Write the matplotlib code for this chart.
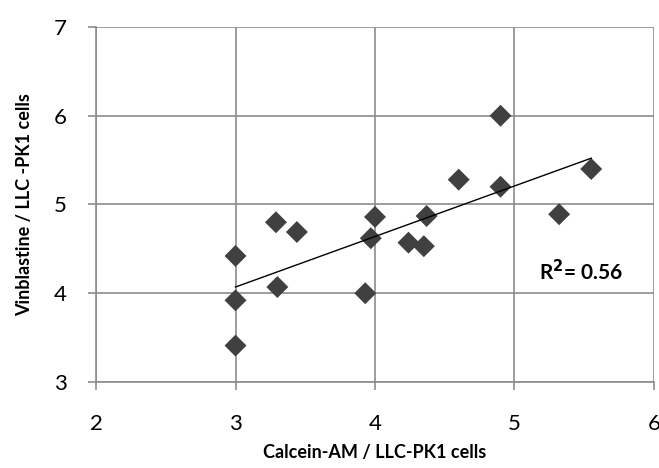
import numpy as np
import matplotlib
matplotlib.use('Agg')
import matplotlib.pyplot as plt

plt.rcParams['font.family'] = ['Lato', 'DejaVu Sans']

# calcein-AM vs vinblastine
calcein = [3.00, 3.00, 3.00, 3.29, 3.30, 3.44, 3.93, 3.97, 4.00, 4.24,
           4.35, 4.37, 4.60, 4.90, 4.90, 5.32, 5.55]
vinblastine = [4.42, 3.92, 3.41, 4.80, 4.07, 4.69, 4.00, 4.62, 4.86, 4.57,
               4.53, 4.87, 5.28, 6.00, 5.20, 4.89, 5.40]
x_ticks = [2, 3, 4, 5, 6]
y_ticks = [3, 4, 5, 6, 7]
r2_label = 'R$^\\mathbf{2}$= 0.56'

fig = plt.figure(figsize=(6.59, 4.68), dpi=100)
ax = fig.add_axes([0.1457, 0.1838, 0.8467, 0.7585])

ax.scatter(calcein, vinblastine, marker='D', s=125, color='#404040',
           edgecolors='none', zorder=3)

# linear trend line over data range
a, b = np.polyfit(calcein, vinblastine, 1)
xs = np.array([min(calcein), max(calcein)])
ax.plot(xs, a * xs + b, color='black', lw=1.0, zorder=4)

ax.text(5.48, 4.24, r2_label, ha='center', va='center', fontsize=15,
        fontweight='bold')

ax.set_xlim(2, 6)
ax.set_ylim(3, 7)
ax.set_xticks(x_ticks)
ax.set_yticks(y_ticks)
ax.grid(True, color='#8c8c8c', lw=1.2)
ax.set_axisbelow(True)

for s in ['top', 'right']:
    ax.spines[s].set_visible(False)
for s in ['left', 'bottom']:
    ax.spines[s].set_color('#8c8c8c')
    ax.spines[s].set_linewidth(1.2)

ax.tick_params(axis='x', direction='out', length=6, width=1.2,
               color='#8c8c8c', pad=17, labelsize=16)
ax.tick_params(axis='y', direction='out', length=6, width=1.2,
               color='#8c8c8c', pad=15, labelsize=16)

ax.set_xlabel('Calcein-AM / LLC-PK1 cells', fontsize=13, fontweight='bold',
              labelpad=7)
ax.set_ylabel('Vinblastine / LLC -PK1 cells', fontsize=13, fontweight='bold',
              labelpad=15)

fig.savefig('out.png', dpi=100)
